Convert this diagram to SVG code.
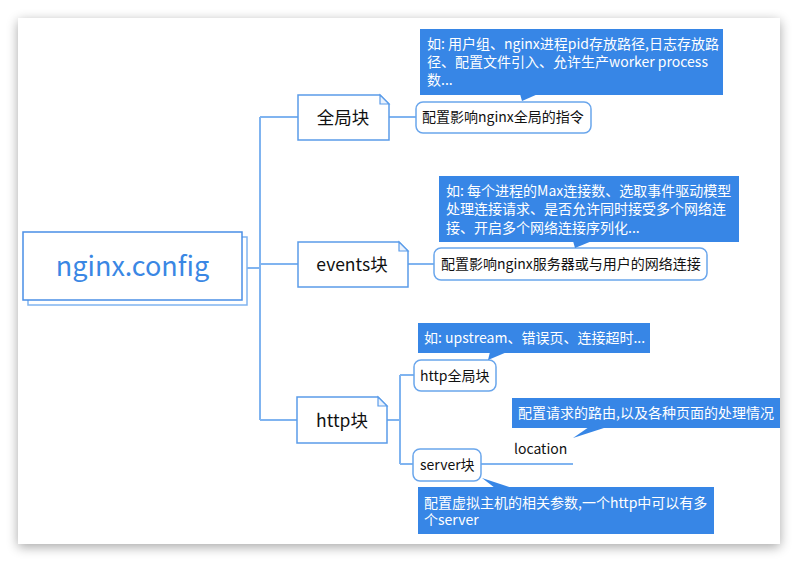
<svg xmlns="http://www.w3.org/2000/svg" width="798" height="562" viewBox="0 0 798 562">
<defs>
<filter id="sh" x="-10%" y="-10%" width="120%" height="120%">
<feGaussianBlur in="SourceAlpha" stdDeviation="6"/>
<feOffset dx="0" dy="3" result="b"/>
<feComponentTransfer><feFuncA type="linear" slope="0.35"/></feComponentTransfer>
<feMerge><feMergeNode/><feMergeNode in="SourceGraphic"/></feMerge>
</filter>
<style>
text{font-family:"Noto Sans CJK SC","Noto Sans",sans-serif;}
.conn{fill:none;stroke:#80b4f0;stroke-width:2;}
.doc{fill:#fff;stroke:#5b9ce9;stroke-width:1.5;}
.fold{fill:#eaf2fd;stroke:#5b9ce9;stroke-width:1.2;}
.sub{fill:#fff;stroke:#6aa6ec;stroke-width:1.5;}
.call{fill:#3786e6;}
.t1{font-size:17.5px;fill:#111;}
.t2{font-size:14px;fill:#111;}
.tw{font-size:14px;fill:#fff;}
</style>
</defs>
<rect x="0" y="0" width="798" height="562" fill="#ffffff"/>
<rect x="18" y="18" width="762" height="526" fill="#fff" filter="url(#sh)"/>
<g id="connectors">
<path class="conn" d="M247,268 H260 M260,117 V420 M260,117 H298 M260,264 H298 M260,420 H297"/>
<path class="conn" d="M389,117 H416 M408,264 H434"/>
<path class="conn" d="M387,420 H400 M400,375 V464 M400,375 H414 M400,464 H413"/>
<path class="conn" d="M481,464 H573"/>
</g>
<g id="root">
<rect x="28" y="237" width="219" height="68" fill="#fff" stroke="#80b4f0" stroke-width="1.5"/>
<rect x="23" y="232" width="219" height="68" fill="#fff" stroke="#4a8fe6" stroke-width="1.5"/>
<text x="132.5" y="276" text-anchor="middle" font-size="27" fill="#3a87e4">nginx.config</text>
</g>
<g id="global">
<path class="doc" d="M298,95 H380 L389,104 V140 H298 Z"/>
<path class="fold" d="M380,95 V104 H389 Z"/>
<text class="t1" x="343" y="124" text-anchor="middle">全局块</text>
</g>
<g id="global-desc">
<rect class="sub" x="416" y="102" width="175" height="31" rx="7"/>
<text class="t2" x="422" y="122">配置影响nginx全局的指令</text>
</g>
<g id="global-note">
<rect class="call" x="420" y="29" width="303" height="66"/>
<path class="call" d="M520,94 L538,94 L522,101 Z"/>
<text class="tw" x="427" y="49">如: 用户组、nginx进程pid存放路径,日志存放路</text>
<text class="tw" x="427" y="67">径、配置文件引入、允许生产worker process</text>
<text class="tw" x="427" y="85">数...</text>
</g>
<g id="events">
<path class="doc" d="M298,242 H399 L408,251 V287 H298 Z"/>
<path class="fold" d="M399,242 V251 H408 Z"/>
<text class="t1" x="352" y="271" text-anchor="middle">events块</text>
</g>
<g id="events-desc">
<rect class="sub" x="434" y="248" width="273" height="32" rx="7"/>
<text class="t2" x="441" y="269">配置影响nginx服务器或与用户的网络连接</text>
</g>
<g id="events-note">
<rect class="call" x="439" y="176" width="300" height="66"/>
<path class="call" d="M573,241 L592,241 L575,248 Z"/>
<text class="tw" x="446" y="196">如: 每个进程的Max连接数、选取事件驱动模型</text>
<text class="tw" x="446" y="214">处理连接请求、是否允许同时接受多个网络连</text>
<text class="tw" x="446" y="233">接、开启多个网络连接序列化...</text>
</g>
<g id="http">
<path class="doc" d="M297,397 H378 L387,406 V443 H297 Z"/>
<path class="fold" d="M378,397 V406 H387 Z"/>
<text class="t1" x="342" y="427" text-anchor="middle">http块</text>
</g>
<g id="http-global">
<rect class="sub" x="414" y="360" width="82" height="31" rx="7"/>
<text class="t2" x="420" y="381">http全局块</text>
</g>
<g id="http-global-note">
<rect class="call" x="418" y="323" width="232" height="30"/>
<path class="call" d="M488,360 L490,352 L507,352 Z"/>
<text class="tw" x="424" y="343">如: upstream、错误页、连接超时...</text>
</g>
<g id="server">
<rect class="sub" x="413" y="449" width="68" height="32" rx="7"/>
<text class="t2" x="420" y="470">server块</text>
</g>
<g id="server-note">
<rect class="call" x="418" y="487" width="296" height="47"/>
<path class="call" d="M482,478 L495,488 L512,488 Z"/>
<text class="tw" x="424" y="508">配置虚拟主机的相关参数,一个http中可以有多</text>
<text class="tw" x="424" y="525">个server</text>
</g>
<g id="location">
<text class="t2" x="514" y="454">location</text>
</g>
<g id="location-note">
<rect class="call" x="512" y="398" width="268" height="30"/>
<path class="call" d="M573,438 L589,427 L607,427 Z"/>
<text class="tw" x="518" y="418">配置请求的路由,以及各种页面的处理情况</text>
</g>
</svg>
